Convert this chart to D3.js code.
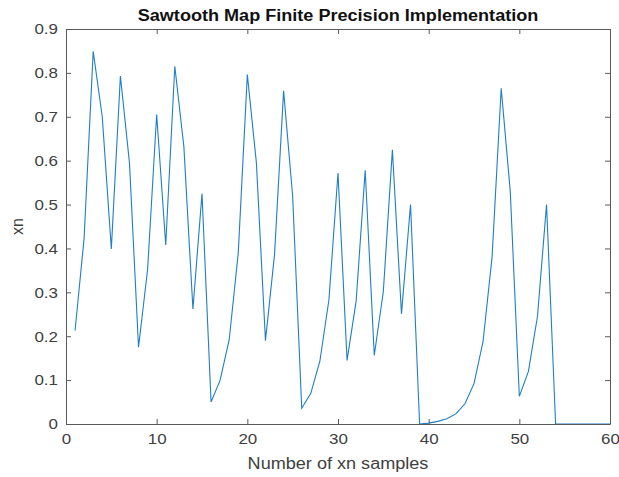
<!DOCTYPE html>
<html><head><meta charset="utf-8">
<script src="https://cdn.jsdelivr.net/npm/d3@7"></script>
<style>
html,body{margin:0;padding:0;background:#fff;}
svg{display:block;font-family:Arial,"Liberation Sans",Helvetica,sans-serif;}
</style></head>
<body>
<script>
const sampleIndex = d3.range(1, 61);
const xnValues = [
  0.213, 0.424, 0.849, 0.700, 0.399, 0.793, 0.595, 0.175, 0.352, 0.705,
  0.408, 0.815, 0.632, 0.262, 0.525, 0.050, 0.100, 0.192, 0.390, 0.796,
  0.595, 0.190, 0.386, 0.759, 0.519, 0.036, 0.070, 0.143, 0.283, 0.572,
  0.145, 0.280, 0.578, 0.156, 0.302, 0.625, 0.251, 0.500, 0.000, 0.002,
  0.006, 0.012, 0.023, 0.046, 0.092, 0.188, 0.382, 0.765, 0.530, 0.063,
  0.120, 0.245, 0.500, 0.000, 0.000, 0.000, 0.000, 0.000, 0.000, 0.000
];
const xTicks = [0, 10, 20, 30, 40, 50, 60];
const yTicks = [0, 0.1, 0.2, 0.3, 0.4, 0.5, 0.6, 0.7, 0.8, 0.9];
const titleText = "Sawtooth Map Finite Precision Implementation";
const xLabelText = "Number of xn samples";
const yLabelText = "xn";

const W = 619, H = 477;
const m = {left: 66, right: 9, top: 29, bottom: 53};
const SX = 1.13;
const svg = d3.select("body").append("svg").attr("width", W).attr("height", H);

const x = d3.scaleLinear().domain([0, 60]).range([m.left, W - m.right]);
const y = d3.scaleLinear().domain([0, 0.9]).range([H - m.bottom, m.top]);

const axisColor = "#5a5a5a";
const textColor = "#404040";

// line
const line = d3.line().x((d, i) => x(sampleIndex[i])).y(d => y(d));
svg.append("path").datum(xnValues)
  .attr("d", line).attr("fill", "none")
  .attr("stroke", "#1f7fc4").attr("stroke-width", 1.1)
  .attr("stroke-linejoin", "miter");

function styleAxis(g) {
  g.selectAll("path.domain").attr("stroke", axisColor).attr("stroke-width", 1);
  g.selectAll(".tick line").attr("stroke", axisColor);
  g.selectAll(".tick text").attr("fill", textColor).attr("font-size", 15)
    .attr("font-family", "Arial, 'Liberation Sans', sans-serif")
    .each(function() {
      const t = d3.select(this);
      const xv = +t.attr("x") || 0;
      t.attr("x", xv / SX).attr("transform", `scale(${SX},1)`);
    });
}

const fmtY = d => d === 0 ? "0" : d3.format(".1f")(d);

// bottom
svg.append("g").attr("transform", `translate(0,${H - m.bottom})`)
  .call(d3.axisBottom(x).tickValues(xTicks).tickSizeInner(-5).tickSizeOuter(0).tickPadding(9))
  .call(styleAxis);
// top
svg.append("g").attr("transform", `translate(0,${m.top})`)
  .call(d3.axisTop(x).tickValues(xTicks).tickSizeInner(-5).tickSizeOuter(0).tickFormat(""))
  .call(styleAxis);
// left
svg.append("g").attr("transform", `translate(${m.left},0)`)
  .call(d3.axisLeft(y).tickValues(yTicks).tickSizeInner(-5).tickSizeOuter(0).tickPadding(8).tickFormat(fmtY))
  .call(styleAxis);
// right
svg.append("g").attr("transform", `translate(${W - m.right},0)`)
  .call(d3.axisRight(y).tickValues(yTicks).tickSizeInner(-5).tickSizeOuter(0).tickFormat(""))
  .call(styleAxis);

svg.append("text").attr("transform", `translate(${(m.left + W - m.right) / 2},21) scale(${SX},1)`)
  .attr("text-anchor", "middle").attr("font-weight", "bold").attr("font-size", 16)
  .attr("fill", "#111").text(titleText);

svg.append("text").attr("transform", `translate(${(m.left + W - m.right) / 2},469) scale(${SX},1)`)
  .attr("text-anchor", "middle").attr("font-size", 16).attr("fill", textColor).text(xLabelText);

svg.append("text").attr("transform", `translate(23,${(m.top + H - m.bottom) / 2}) rotate(-90)`)
  .attr("text-anchor", "middle").attr("font-size", 16).attr("fill", textColor).text(yLabelText);
</script>
</body></html>
